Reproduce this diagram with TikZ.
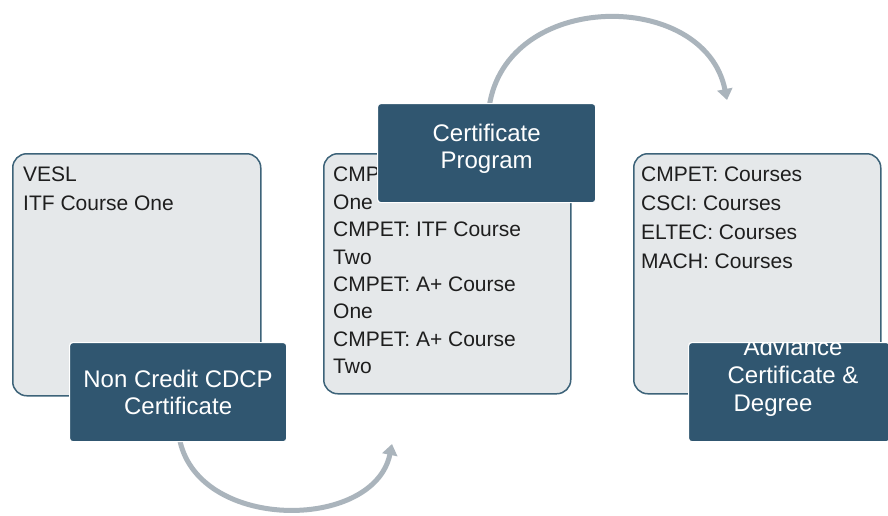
\documentclass[tikz,border=0pt]{standalone}
\usepackage{fontspec}
\setmainfont{Liberation Sans}
\usetikzlibrary{arrows.meta}
\definecolor{darkfill}{HTML}{305670}
\definecolor{lightfill}{HTML}{E5E8EA}
\definecolor{lightborder}{HTML}{3D6379}
\definecolor{arrowgray}{HTML}{AAB4BC}
\definecolor{textdark}{HTML}{1E1E1E}
\begin{document}
\begin{tikzpicture}[x=1pt,y=-1pt,
  lightbox/.style={draw=lightborder, fill=lightfill, line width=1.5pt, rounded corners=14pt, anchor=north west, inner sep=0pt},
  darkbox/.style={fill=darkfill, draw=white, line width=1.2pt, rounded corners=3pt, anchor=north west, inner sep=0pt},
  listtext/.style={anchor=north west, align=left, inner sep=0pt, text=textdark, font=\fontsize{21}{29}\selectfont},
  headtext/.style={align=center, inner sep=0pt, text=white, font=\fontsize{24}{27}\selectfont},
  curve/.style={draw=arrowgray, line width=5pt, -{Triangle[width=15pt,length=11pt]}}]
\useasboundingbox (0,0) rectangle (888,515);
\fill[white] (0,0) rectangle (888,515);
% light boxes
\node[lightbox, minimum width=248pt, minimum height=242pt] (b1) at (12,153) {};
\node[lightbox, minimum width=247pt, minimum height=240pt] (b2) at (323,153) {};
\node[lightbox, minimum width=247pt, minimum height=240pt] (b3) at (633,153) {};
% list texts
\node[listtext] (t1) at (23,167) {VESL\\ITF Course One};
\node[listtext, font=\fontsize{21}{27.4}\selectfont] (t2) at (333,167) {CMPET: ITF Course\\One\\CMPET: ITF Course\\Two\\CMPET: A+ Course\\One\\CMPET: A+ Course\\Two};
\node[listtext] (t3) at (641,167) {CMPET: Courses\\CSCI: Courses\\ELTEC: Courses\\MACH: Courses};
% arrows
\coordinate (a1s) at (179,436);
\coordinate (a1e) at (392,444);
\draw[curve] (a1s) .. controls (194,532) and (374,532) .. (a1e);
\coordinate (a2s) at (489,108);
\coordinate (a2e) at (727,100);
\draw[curve] (a2s) .. controls (505,-11) and (705,-11) .. (a2e);
% dark boxes
\node[darkbox, minimum width=217pt, minimum height=99pt] (d1) at (69,342) {};
\node[headtext] (h1) at (d1.center) {Non Credit CDCP\\Certificate};
\node[darkbox, minimum width=218pt, minimum height=99pt] (d2) at (377,103) {};
\node[headtext] (h2) at ([yshift=4pt]d2.center) {Certificate\\Program};
\node[darkbox, minimum width=201pt, minimum height=99pt] (d3) at (688,342) {};
\begin{scope}
\clip (d3.south west) rectangle (d3.north east);
\node[headtext, font=\fontsize{24}{28}\selectfont] (h3) at (793,377) {Adviance\\Certificate \&\\Degree\rule{40pt}{0pt}};
\end{scope}
\end{tikzpicture}
\end{document}
